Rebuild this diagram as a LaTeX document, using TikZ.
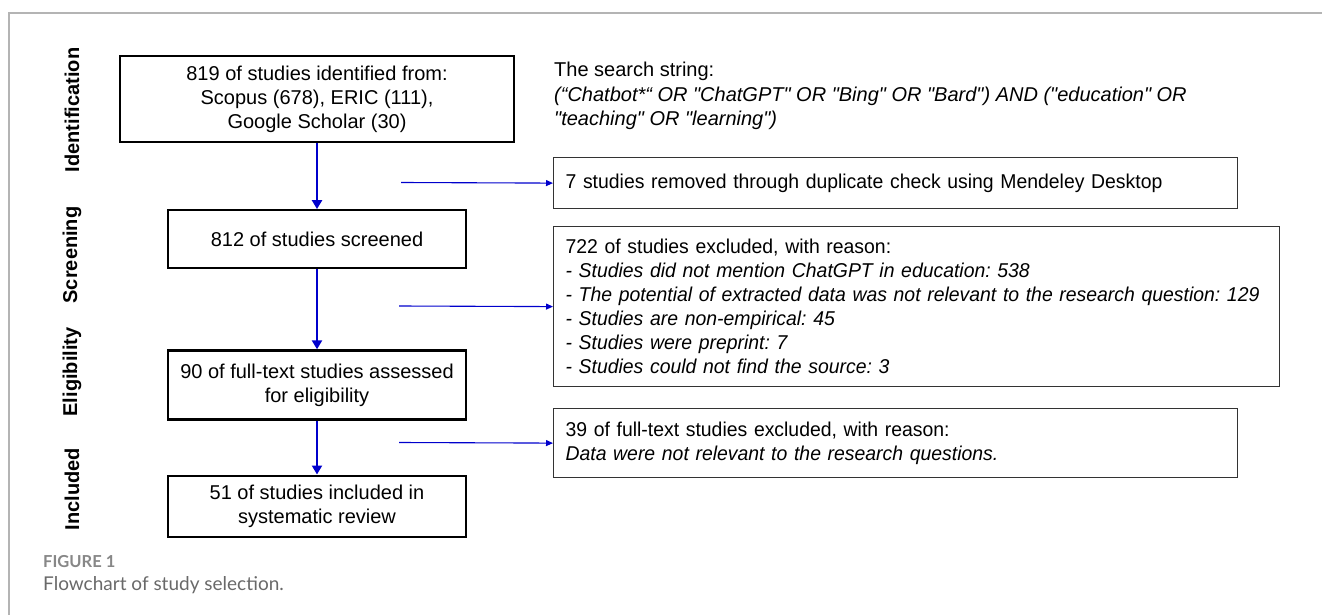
\documentclass[tikz,border=0pt]{standalone}
\usepackage{fontspec}
\setmainfont{Liberation Sans}[Ligatures=TeXOff]
\newfontfamily\sidefont{Liberation Sans}[Ligatures=TeXOff, FakeStretch=0.97]
\newfontfamily\captionfont{Lato}
\usetikzlibrary{arrows.meta, positioning}
\definecolor{flowblue}{RGB}{0,0,204}
\definecolor{framegray}{RGB}{180,180,180}
\definecolor{captiongray}{RGB}{105,105,105}
\frenchspacing
\tikzset{
  block/.style = {rectangle, draw, line width=2.2pt, minimum width=298pt, align=center, inner sep=0pt, font=\fontsize{20}{24}\selectfont},
  sidebox/.style = {rectangle, draw=black!80, line width=1.2pt, anchor=north west, align=left, inner xsep=12pt, inner ysep=0pt, font=\sidefont\fontsize{20}{24}\selectfont},
  phase/.style = {rotate=90, font=\bfseries\fontsize{20}{24}\selectfont},
  arrow/.style = {flowblue, line width=2.8pt, -{Triangle[length=9pt, width=10pt]}},
  sidearrow/.style = {flowblue, line width=1.1pt, -{Triangle[length=7pt, width=6pt]}}
}

\begin{document}
\begin{tikzpicture}[x=1pt, y=-1pt]
  \useasboundingbox (0,0) rectangle (1322,615);
  \draw[framegray, line width=1.5pt] (9,615) -- (9,13) -- (1322,13);

  % Phasen
  \node[phase] (lid) at (72,110) {Identification};
  \node[phase] (lscr) at (72,255) {Screening};
  \node[phase] (lelig) at (72,372) {Eligibility};
  \node[phase] (lincl) at (72,489) {Included};

  % Hauptkette
  \node[block, minimum width=394pt, minimum height=86pt] (ident) at (317,99) {819 of studies identified from:\\Scopus (678), ERIC (111),\\Google Scholar (30)};
  \node[block, minimum height=58pt, below=66pt of ident] (screen) {812 of studies screened};
  \node[block, minimum height=69pt, below=80pt of screen] (elig) {90 of full-text studies assessed\\for eligibility};
  \node[block, minimum height=61pt, below=54pt of elig] (incl) {51 of studies included in\\systematic review};

  % Suchbegriffe
  \node[anchor=north west, inner sep=0pt, align=left, font=\fontsize{20}{24.5}\selectfont] (search) at (554,62)
    {The search string:\\
     \textit{(“Chatbot*“ OR "ChatGPT" OR "Bing" OR "Bard") AND ("education" OR}\\
     \textit{"teaching" OR "learning")}};

  % Ausschlüsse
  \node[sidebox, text width=660pt, minimum height=51pt] (dup) at (553,157)
    {7 studies removed through duplicate check using Mendeley Desktop};
  \node[sidebox, text width=702pt, minimum height=160pt] (excl) at (553,226)
    {722 of studies excluded, with reason:\\
     \textit{- Studies did not mention ChatGPT in education: 538}\\
     \textit{- The potential of extracted data was not relevant to the research question: 129}\\
     \textit{- Studies are non-empirical: 45}\\
     \textit{- Studies were preprint: 7}\\
     \textit{- Studies could not find the source: 3}};
  \node[sidebox, text width=660pt, minimum height=69pt] (fulltext) at (553,408)
    {39 of full-text studies excluded, with reason:\\
     \textit{Data were not relevant to the research questions.}};

  % Verbindungen Hauptkette
  \draw[arrow] (ident) -- (screen);
  \draw[arrow] (screen) -- (elig);
  \draw[arrow] (elig) -- (incl);

  % Verbindungen Ausschlüsse
  \coordinate (tapdup) at (401,182.5);
  \coordinate (tapexcl) at (399,306);
  \coordinate (tapfull) at (399,442.5);
  \draw[sidearrow] (tapdup) -- (dup.west);
  \draw[sidearrow] (tapexcl) -- (excl.west);
  \draw[sidearrow] (tapfull) -- (fulltext.west);

  % Bildunterschrift
  \node[anchor=base west, inner sep=0pt, text=captiongray!80, font=\captionfont\bfseries\fontsize{16.5}{18}\selectfont] (figlabel) at (43,567) {FIGURE 1};
  \node[anchor=base west, inner sep=0pt, text=captiongray, font=\captionfont\fontsize{19}{22}\selectfont] (figcaption) at (43,590) {Flowchart of study selection.};
\end{tikzpicture}
\end{document}
